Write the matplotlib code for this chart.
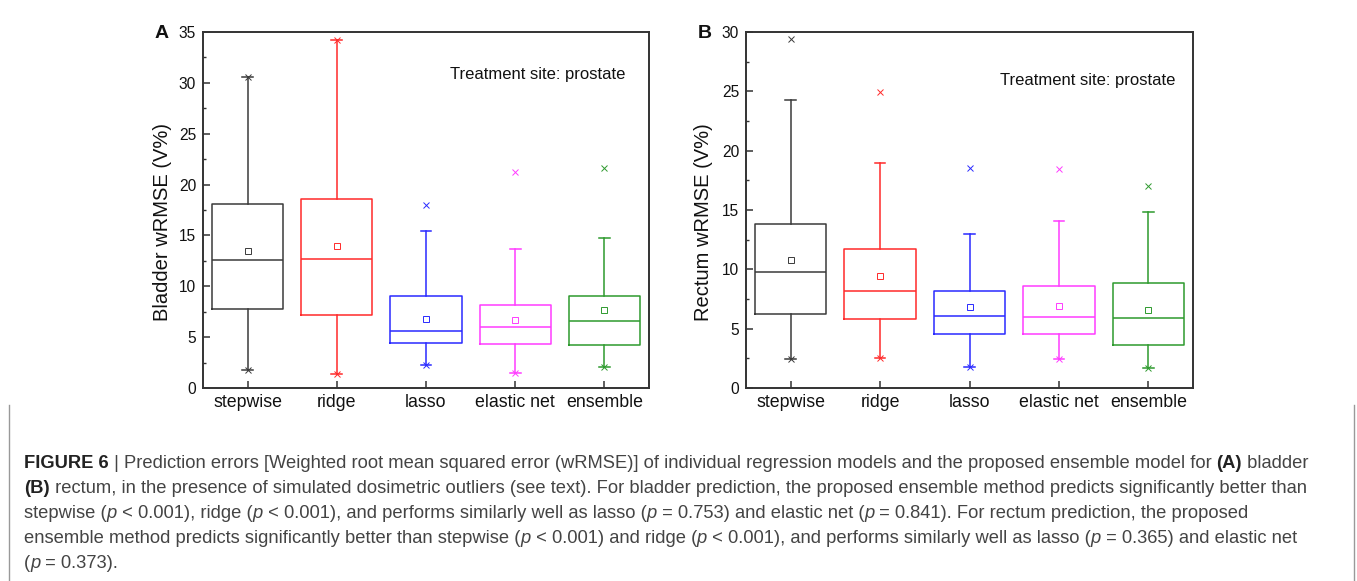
import matplotlib
matplotlib.use('Agg')
import matplotlib.pyplot as plt
from matplotlib.ticker import MultipleLocator
from matplotlib.lines import Line2D

plt.rcParams['font.family'] = ['Liberation Sans', 'DejaVu Sans']

# 五个模型
labels = ['stepwise', 'ridge', 'lasso', 'elastic net', 'ensemble']
colors = ['#3a3a3a', '#ff2a2a', '#2a2aff', '#ff3cff', '#2e9a2e']

# 膀胱 (A)
bladder_q1 = [7.75, 7.13, 4.42, 4.35, 4.25]
bladder_med = [12.6, 12.66, 5.59, 5.99, 6.58]
bladder_q3 = [18.06, 18.6, 9.06, 8.18, 9.06]
bladder_mean = [13.48, 13.94, 6.77, 6.64, 7.65]
bladder_wlo = [1.73, 1.37, 2.22, 1.47, 2.03]
bladder_whi = [30.55, 34.25, 15.44, 13.67, 14.72]
bladder_max = [30.55, 34.25, 17.99, 21.26, 21.62]

# 直肠 (B)
rectum_q1 = [6.25, 5.8, 4.51, 4.54, 3.62]
rectum_med = [9.76, 8.21, 6.06, 5.97, 5.92]
rectum_q3 = [13.85, 11.75, 8.16, 8.61, 8.83]
rectum_mean = [10.79, 9.48, 6.81, 6.87, 6.56]
rectum_wlo = [2.44, 2.5, 1.79, 2.44, 1.65]
rectum_whi = [24.25, 19.0, 12.95, 14.07, 14.86]
rectum_max = [29.38, 24.95, 18.56, 18.47, 17.05]

W, H = 1357, 581
spine_color = '#333333'


def draw_boxes(ax, q1, med, q3, mean, wlo, whi, mx):
    # 每个箱子单独画，颜色不同
    for i in range(len(labels)):
        c = colors[i]
        stat = {'q1': q1[i], 'med': med[i], 'q3': q3[i], 'mean': mean[i],
                'whislo': wlo[i], 'whishi': whi[i],
                'fliers': [wlo[i], mx[i]]}
        ax.bxp([stat], positions=[i + 1], widths=0.8, capwidths=0.12,
               showmeans=True, showfliers=True,
               boxprops=dict(color=c, linewidth=1.1),
               medianprops=dict(color=c, linewidth=1.1),
               whiskerprops=dict(color=c, linewidth=1.1),
               capprops=dict(color=c, linewidth=1.1),
               meanprops=dict(marker='s', markersize=4, markerfacecolor='none',
                              markeredgecolor=c, markeredgewidth=0.7),
               flierprops=dict(marker='x', markersize=4.5, markeredgecolor=c,
                               markeredgewidth=0.7))


def style_axes(ax, ymax, ylabel, label_x):
    ax.set_xlim(0.5, 5.5)
    ax.set_ylim(0, ymax)
    ax.set_xticks(range(1, 6))
    ax.set_xticklabels(labels, fontsize=12.8, color='#111111')
    ax.set_yticks(range(0, ymax + 1, 5))
    ax.yaxis.set_minor_locator(MultipleLocator(2.5))
    ax.tick_params(axis='y', which='major', direction='in', length=5, width=1.1,
                   color=spine_color, pad=5, labelsize=11.2, labelcolor='#111111')
    ax.tick_params(axis='y', which='minor', direction='in', length=2.5, width=1.0,
                   color=spine_color)
    ax.tick_params(axis='x', which='major', direction='in', length=5, width=1.1,
                   color=spine_color, pad=4)
    for s in ax.spines.values():
        s.set_color(spine_color)
        s.set_linewidth(1.4)
    ax.set_ylabel(ylabel, fontsize=14.5, color='#111111')
    ax.yaxis.set_label_coords(label_x, 0.466)


fig = plt.figure(figsize=(W / 100, H / 100), dpi=100)
axA = fig.add_axes([203 / W, 1 - 388 / H, 446 / W, 356 / H])
axB = fig.add_axes([746 / W, 1 - 388 / H, 447 / W, 356 / H])

draw_boxes(axA, bladder_q1, bladder_med, bladder_q3, bladder_mean,
           bladder_wlo, bladder_whi, bladder_max)
draw_boxes(axB, rectum_q1, rectum_med, rectum_q3, rectum_mean,
           rectum_wlo, rectum_whi, rectum_max)
style_axes(axA, 35, 'Bladder wRMSE (V%)', (172 - 203) / 446)
style_axes(axB, 30, 'Rectum wRMSE (V%)', (713 - 746) / 447)

axA.text(0.948, 0.882, 'Treatment site: prostate', transform=axA.transAxes,
         ha='right', va='center', fontsize=12, color='#111111')
axB.text(0.96, 0.865, 'Treatment site: prostate', transform=axB.transAxes,
         ha='right', va='center', fontsize=12, color='#111111')

fig.text(162 / W, 1 - 34 / H, 'A', fontsize=14, fontweight='bold',
         ha='center', va='center', color='#111111')
fig.text(705 / W, 1 - 34 / H, 'B', fontsize=14, fontweight='bold',
         ha='center', va='center', color='#111111')

# 图注，分段画出粗体和斜体
n, b, it = 'n', 'b', 'i'
caption = [
    [('FIGURE 6', b), (' | Prediction errors [Weighted root mean squared error (wRMSE)] of individual '
                       'regression models and the proposed ensemble model for ', n), ('(A)', b), (' bladder', n)],
    [('(B)', b), (' rectum, in the presence of simulated dosimetric outliers (see text). For bladder '
                  'prediction, the proposed ensemble method predicts significantly better than', n)],
    [('stepwise (', n), ('p', it), (' < 0.001), ridge (', n), ('p', it),
     (' < 0.001), and performs similarly well as lasso (', n), ('p', it),
     (' = 0.753) and elastic net (', n), ('p', it), (' = 0.841). For rectum prediction, the proposed', n)],
    [('ensemble method predicts significantly better than stepwise (', n), ('p', it),
     (' < 0.001) and ridge (', n), ('p', it), (' < 0.001), and performs similarly well as lasso (', n),
     ('p', it), (' = 0.365) and elastic net', n)],
    [('(', n), ('p', it), (' = 0.373).', n)],
]

renderer = fig.canvas.get_renderer()
cap_size = 13.2
for k, line in enumerate(caption):
    x = 24
    y = 468 + 25 * k
    for txt, kind in line:
        t = fig.text(x / W, 1 - y / H, txt, fontsize=cap_size, va='baseline', ha='left',
                     fontweight='bold' if kind == b else 'normal',
                     fontstyle='italic' if kind == it else 'normal',
                     color='#222222' if kind == b else '#444444')
        x += t.get_window_extent(renderer).width

# 图注两侧的竖线
fig.add_artist(Line2D([9 / W, 9 / W], [0, 1 - 405 / H], color='#999999', linewidth=1.0))
fig.add_artist(Line2D([1354 / W, 1354 / W], [0, 1 - 405 / H], color='#999999', linewidth=1.0))

fig.savefig('out.png', dpi=100)
